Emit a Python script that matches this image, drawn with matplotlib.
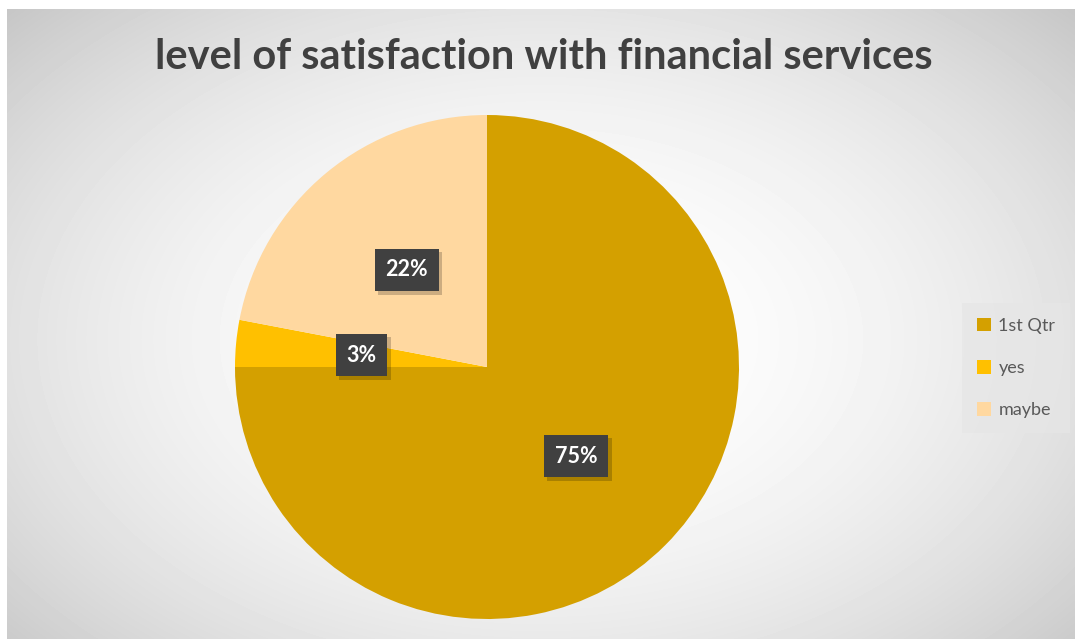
import numpy as np
import matplotlib.pyplot as plt
import matplotlib.patheffects as pe

plt.rcParams['font.family'] = ['Lato', 'DejaVu Sans']

# slices, clockwise from 12 o'clock
labels = ['1st Qtr', 'yes', 'maybe']
shares = [75, 3, 22]
colors = ['#D4A000', '#FFC000', '#FFD8A0']

W, H = 1075, 639
fig = plt.figure(figsize=(W / 100, H / 100), dpi=100, facecolor='white')

# radial grey-to-white backdrop
bg = fig.add_axes([7 / W, 0, 1 - 7 / W, 630 / H])
yy, xx = np.mgrid[0:630, 0:1068]
cx, cy = 534, 330
r2 = ((xx - cx) / 640.0) ** 2 + ((yy - cy) / 420.0) ** 2
shade = 1.0 - 0.17 * r2
bg.imshow(shade, cmap='gray', vmin=0, vmax=1, aspect='auto', interpolation='bilinear')
bg.axis('off')

fig.text(544 / W, 1 - 57 / H, 'level of satisfaction with financial services',
         ha='center', va='center', fontsize=30, fontweight='bold', color='#404040')

R = 252
ax = fig.add_axes([(487 - R) / W, (H - 367 - R) / H, 2 * R / W, 2 * R / H])
wedges, _, autotexts = ax.pie(shares, colors=colors, startangle=90, counterclock=False,
                              autopct='%d%%', pctdistance=0.5,
                              textprops=dict(color='white', fontsize=15.5, fontweight='bold'))
ax.set_xlim(-1, 1)
ax.set_ylim(-1, 1)
ax.set_aspect('equal')
for t in autotexts:
    t.set_bbox(dict(boxstyle='square,pad=0.5', facecolor='#404040', edgecolor='none'))
    t.get_bbox_patch().set_path_effects([
        pe.SimplePatchShadow(offset=(2.5, -2.5), shadow_rgbFace='black', alpha=0.2), pe.Normal()])

leg = fig.legend(wedges, labels, loc='center', bbox_to_anchor=(1016 / W, 1 - 368 / H),
                 fontsize=13, labelcolor='#595959', frameon=True, fancybox=False,
                 facecolor='#e6e6e6', edgecolor='none', framealpha=0.7,
                 handlelength=0.8, handleheight=0.8, handletextpad=0.4,
                 labelspacing=1.45, borderpad=0.8)

fig.savefig('out.png', dpi=100, facecolor='white')
